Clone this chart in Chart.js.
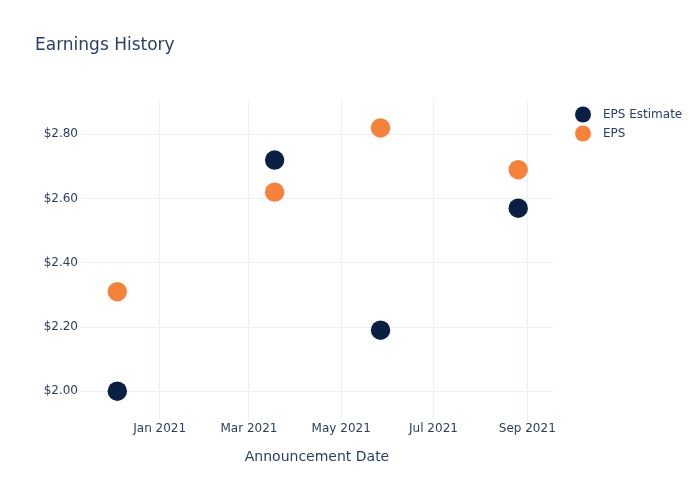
<!DOCTYPE html>
<html>
<head>
<meta charset="utf-8">
<script src="https://cdn.jsdelivr.net/npm/chart.js@4.4.1/dist/chart.umd.min.js"></script>
<style>
  html, body { margin: 0; padding: 0; background: #fff; }
  #wrap { width: 700px; height: 500px; }
</style>
</head>
<body>
<div id="wrap"><canvas id="chart" width="700" height="500"></canvas></div>
<script>
const announceDates = ['2020-12-04', '2021-03-18', '2021-05-27', '2021-08-26'];
const epsEstimate = [2.00, 2.72, 2.19, 2.57];
const eps = [2.31, 2.62, 2.82, 2.69];

const xTickDates = ['2021-01-01', '2021-03-01', '2021-05-01', '2021-07-01', '2021-09-01'];
const xTickLabels = ['Jan 2021', 'Mar 2021', 'May 2021', 'Jul 2021', 'Sep 2021'];
const yTicks = [2.00, 2.20, 2.40, 2.60, 2.80];

const toMs = s => Date.parse(s + 'T00:00:00Z');
const font = '"DejaVu Sans", Verdana, sans-serif';
const textColor = '#2a3f5f';
const gridColor = '#ebf0f8';

// plotly-like legend drawn at the right
const sideLegend = {
    id: 'sideLegend',
    afterDraw(chart) {
        const ctx = chart.ctx;
        ctx.save();
        ctx.font = '12px ' + font;
        ctx.textBaseline = 'middle';
        ctx.textAlign = 'left';
        chart.data.datasets.forEach((ds, i) => {
            const y = 114.5 + i * 19;
            ctx.beginPath();
            ctx.arc(583, y, 8, 0, Math.PI * 2);
            ctx.fillStyle = ds.backgroundColor;
            ctx.fill();
            ctx.fillStyle = textColor;
            ctx.fillText(ds.label, 603, y);
        });
        ctx.restore();
    }
};

new Chart(
    document.getElementById('chart'),
    {
        type: 'scatter',
        data: {
            datasets: [
                {
                    label: 'EPS Estimate',
                    data: announceDates.map((d, i) => ({ x: toMs(d), y: epsEstimate[i] })),
                    backgroundColor: '#0b1f42',
                    borderColor: '#0b1f42',
                },
                {
                    label: 'EPS',
                    data: announceDates.map((d, i) => ({ x: toMs(d), y: eps[i] })),
                    backgroundColor: '#f5823a',
                    borderColor: '#f5823a',
                }
            ]
        },
        options: {
            responsive: false,
            animation: false,
            layout: {
                padding: { left: 35, right: 147, top: 0, bottom: 34 }
            },
            elements: {
                point: {
                    radius: 9.7,
                    hoverRadius: 9.7,
                    borderWidth: 0,
                }
            },
            plugins: {
                legend: { display: false },
                tooltip: { enabled: false },
                title: {
                    display: true,
                    text: 'Earnings History',
                    align: 'start',
                    color: textColor,
                    font: { family: font, size: 17, weight: 'normal' },
                    padding: { top: 35, bottom: 44.6 },
                }
            },
            scales: {
                x: {
                    type: 'linear',
                    min: toMs('2020-11-10'),
                    max: toMs('2021-09-18'),
                    afterBuildTicks: axis => {
                        axis.ticks = xTickDates.map(d => ({ value: toMs(d) }));
                    },
                    ticks: {
                        padding: 2,
                        color: textColor,
                        font: { family: font, size: 12 },
                        maxRotation: 0,
                        callback: (value) => {
                            const i = xTickDates.findIndex(d => toMs(d) === value);
                            return i >= 0 ? xTickLabels[i] : '';
                        }
                    },
                    grid: { color: gridColor, drawTicks: false },
                    border: { display: false },
                    title: {
                        display: true,
                        text: 'Announcement Date',
                        color: textColor,
                        font: { family: font, size: 14 },
                        padding: { top: 11, bottom: 0 },
                    }
                },
                y: {
                    min: 1.911,
                    max: 2.907,
                    afterBuildTicks: axis => {
                        axis.ticks = yTicks.map(v => ({ value: v }));
                    },
                    afterFit: axis => { axis.width = 46; },
                    ticks: {
                        padding: 3,
                        color: textColor,
                        font: { family: font, size: 12 },
                        callback: value => '$' + value.toFixed(2),
                    },
                    grid: { color: gridColor, drawTicks: false },
                    border: { display: false },
                }
            }
        },
        plugins: [sideLegend]
    }
);
</script>
</body>
</html>
